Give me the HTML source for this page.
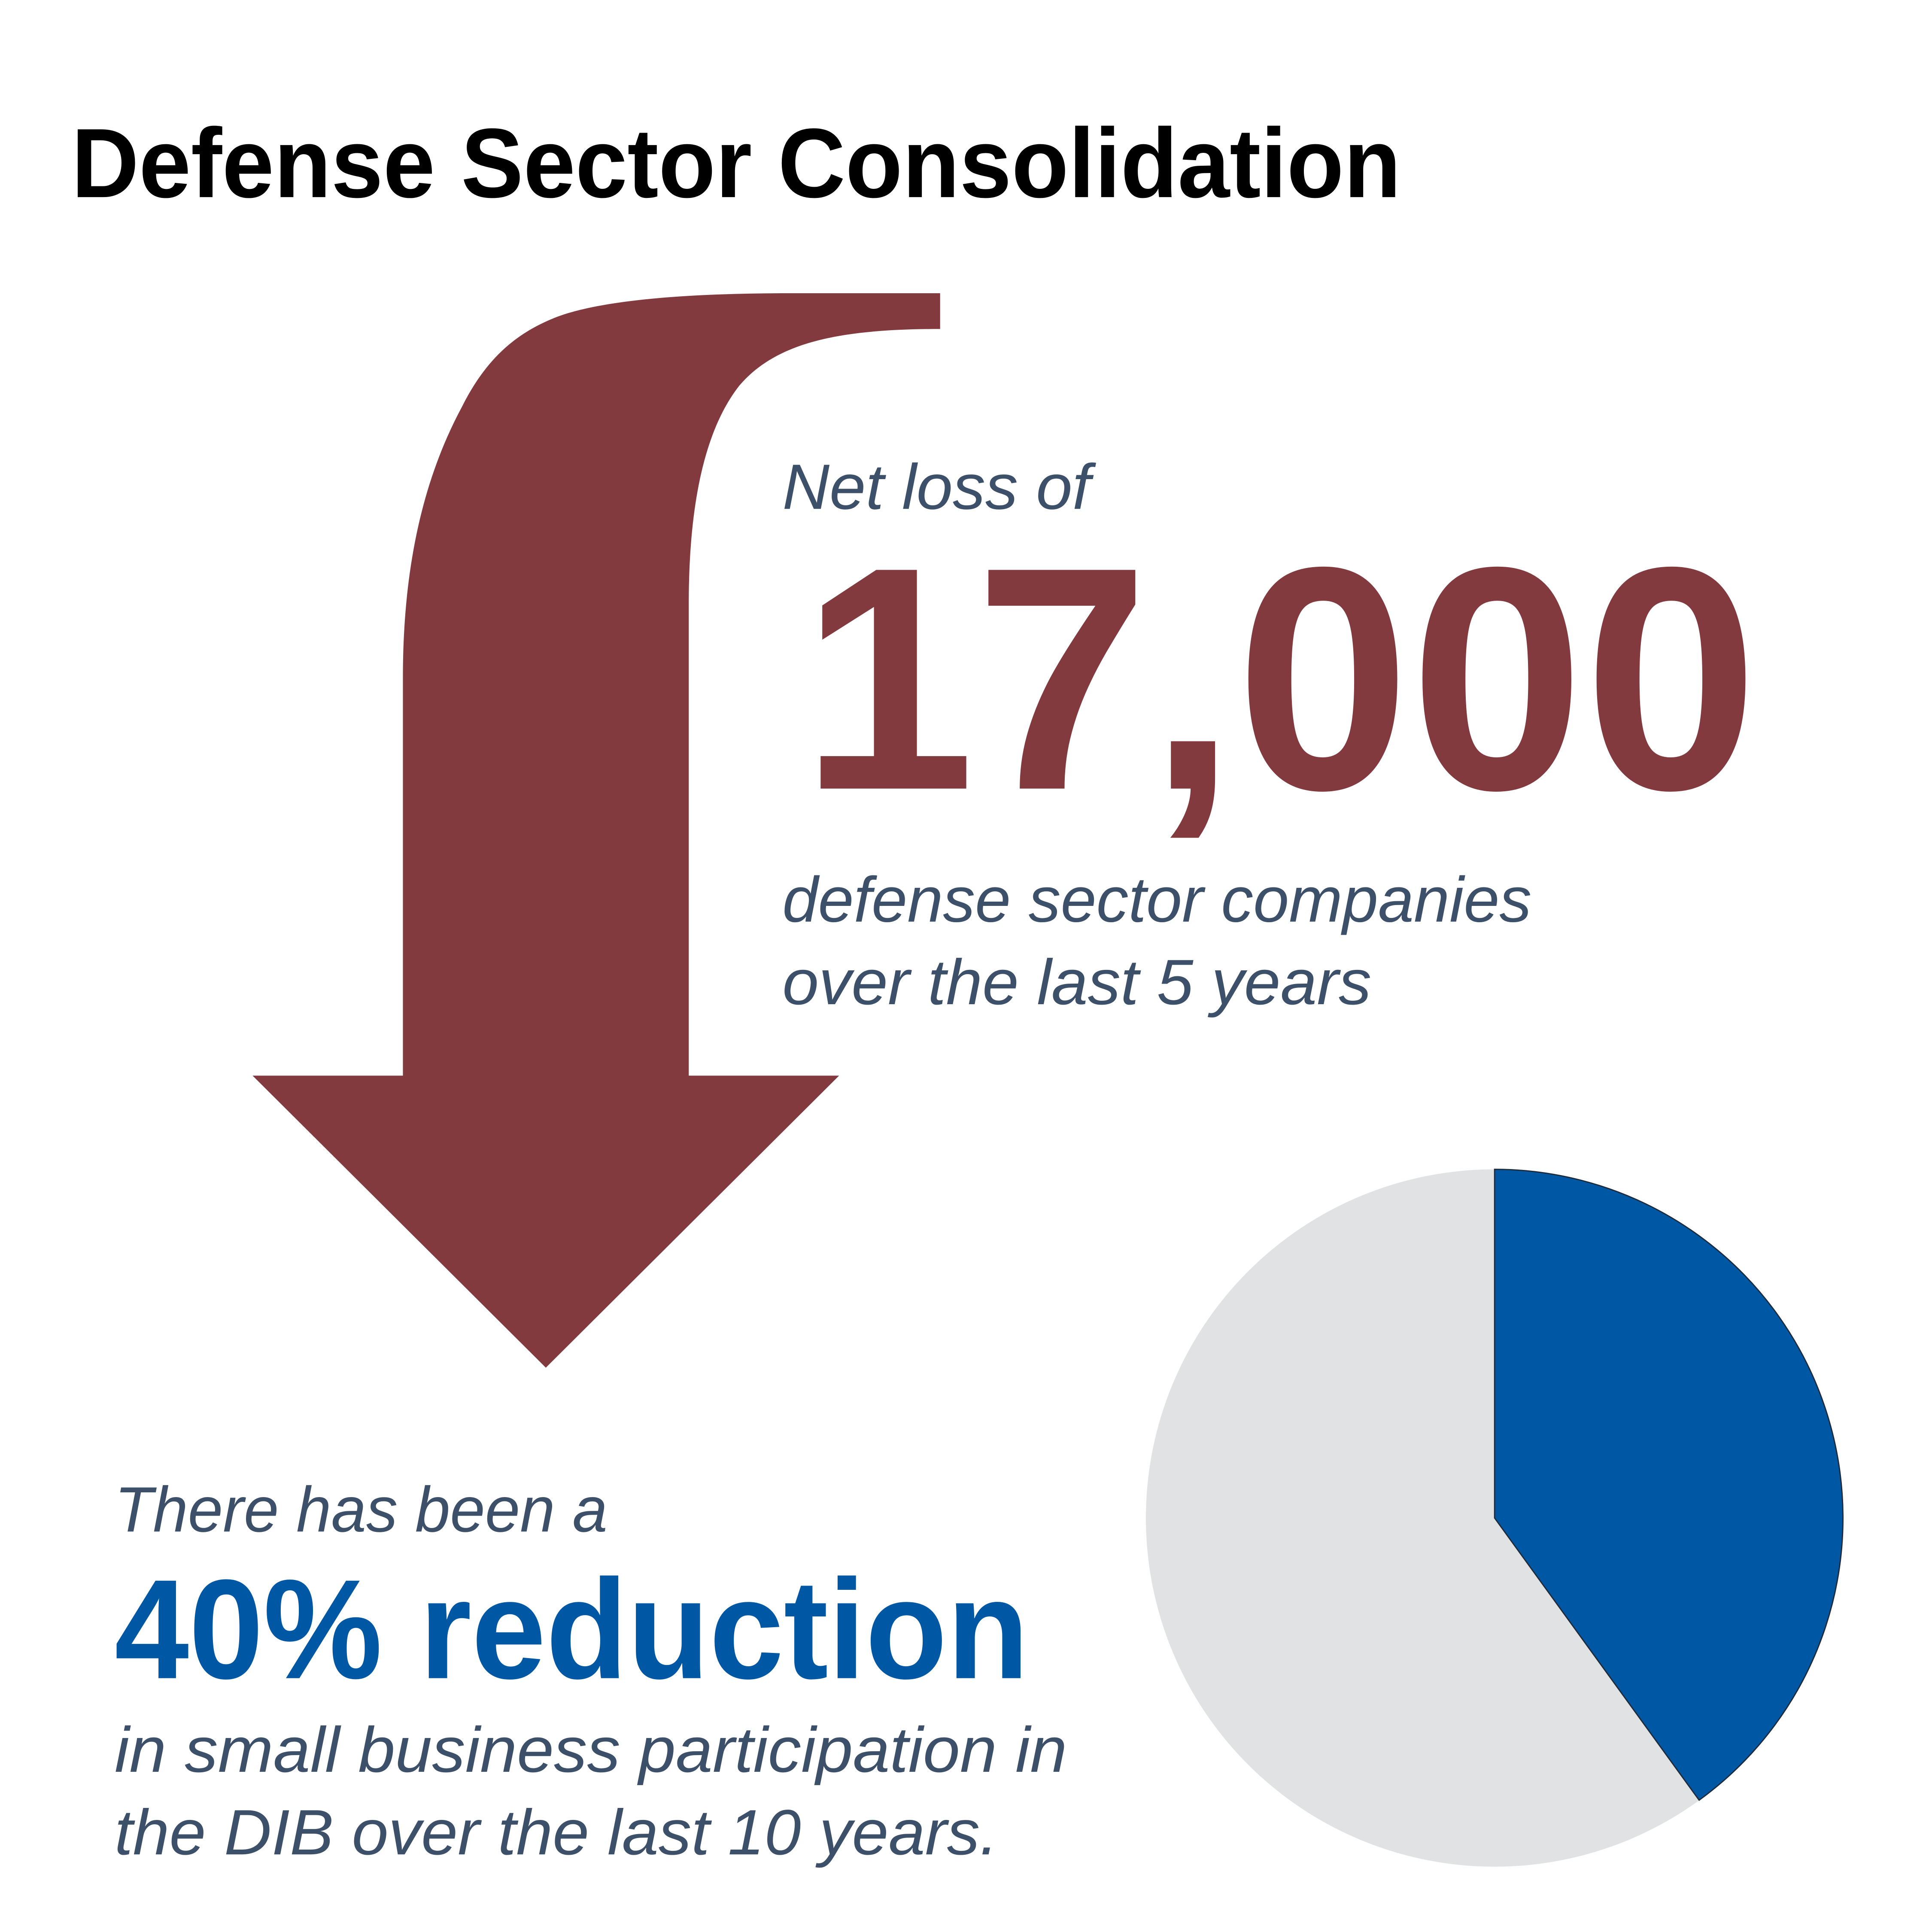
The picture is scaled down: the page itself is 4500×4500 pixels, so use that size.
<!DOCTYPE html>
<html><head><meta charset="utf-8"><style>
html,body{margin:0;padding:0;background:#fff;}
svg{display:block;}
</style></head><body>
<svg width="4500" height="4500" viewBox="0 0 1568 1568" xmlns="http://www.w3.org/2000/svg">
<rect width="1568" height="1568" fill="#fff"/>
<text x="58" y="160" font-family="Liberation Sans, sans-serif" font-weight="bold" font-size="80" fill="#000" textLength="1079" lengthAdjust="spacingAndGlyphs">Defense Sector Consolidation</text>
<path d="M763,238 L640,238 C540,238 480,246 450,258 C420,270 395,290 375,330 C340,395 327,470 327,550 L327,873 L205,873 L443,1110 L681,873 L559,873 L559,490 C559,400 575,345 600,313 C630,278 680,267 763,267 Z" fill="#823a3e"/>
<g font-family="Liberation Sans, sans-serif" font-style="italic" fill="#3d5069" font-size="52">
<text x="635" y="413" textLength="250" lengthAdjust="spacingAndGlyphs">Net loss of</text>
<text x="635" y="748" textLength="608" lengthAdjust="spacingAndGlyphs">defense sector companies</text>
<text x="635" y="815" textLength="478" lengthAdjust="spacingAndGlyphs">over the last 5 years</text>
<text x="93" y="1243" textLength="400" lengthAdjust="spacingAndGlyphs">There has been a</text>
<text x="93" y="1438" textLength="773" lengthAdjust="spacingAndGlyphs">in small business participation in</text>
<text x="93" y="1505" textLength="717" lengthAdjust="spacingAndGlyphs">the DIB over the last 10 years.</text>
</g>
<text x="650" y="640" font-family="Liberation Sans, sans-serif" font-weight="bold" font-size="258" fill="#823a3e" textLength="777" lengthAdjust="spacingAndGlyphs">17,000</text>
<text x="93" y="1362" font-family="Liberation Sans, sans-serif" font-weight="bold" font-size="115" fill="#0057a3" textLength="742" lengthAdjust="spacingAndGlyphs">40% reduction</text>
<circle cx="1213" cy="1232" r="283" fill="#e1e2e4"/>
<path d="M1213,1232 L1213,949 A283,283 0 0 1 1379,1461 Z" fill="#0057a3" stroke="#1e2a3a" stroke-width="1"/>
</svg>
</body></html>
